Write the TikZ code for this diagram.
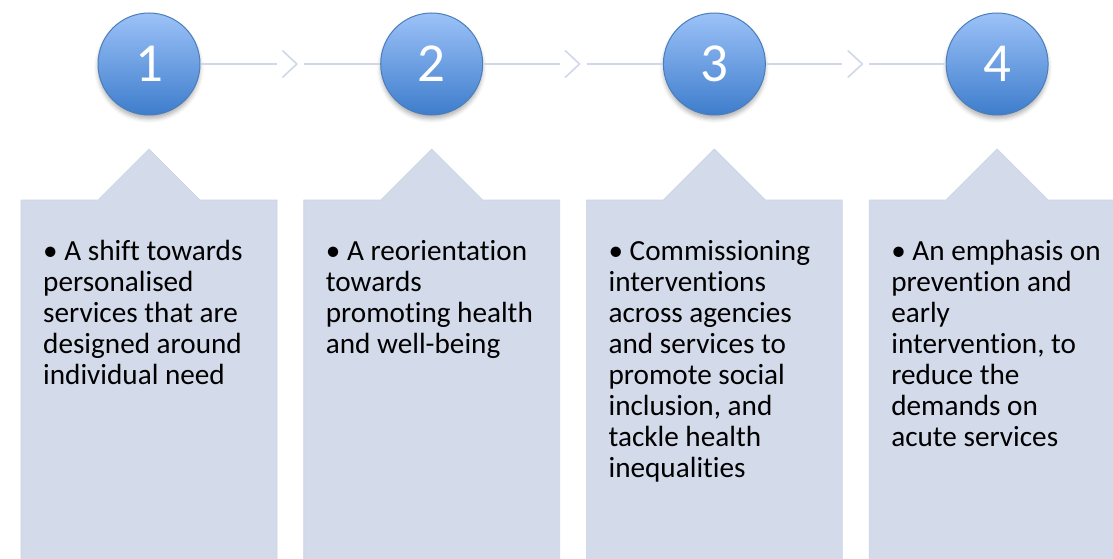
\documentclass[tikz,border=0pt]{standalone}
\usepackage{fontspec}
\setmainfont{Carlito}[Ligatures=NoCommon]
\usetikzlibrary{calc, shadows.blur}

\definecolor{stepTop}{HTML}{9CC2F8}
\definecolor{stepBot}{HTML}{3E7DCC}
\definecolor{stepEdge}{HTML}{4A7EBB}
\definecolor{panelFill}{HTML}{D3DAE9}
\definecolor{panelEdge}{HTML}{CBD3E5}
\definecolor{linkLine}{HTML}{D0D8E8}

\tikzset{
  stepdot/.style={circle, minimum size=102pt, inner sep=0pt, draw=stepEdge, line width=1pt,
    top color=stepTop, bottom color=stepBot, text=white,
    font=\fontsize{55}{55}\selectfont,
    blur shadow={shadow xshift=0pt, shadow yshift=-4pt, shadow blur radius=4pt, shadow opacity=30}},
  panel/.style={fill=panelFill, draw=panelEdge, line width=0.6pt},
  link/.style={draw=linkLine, line width=1.6pt},
  note/.style={anchor=north west, inner sep=0pt, align=left,
    font=\fontsize{29.2}{31}\selectfont}
}

\begin{document}
\begin{tikzpicture}[x=1pt, y=-1pt]

\useasboundingbox (0,0) rectangle (1113,559);
\clip (0,0) rectangle (1113,559);

% Panels with their pointer triangles
\foreach \i in {1,...,4} {
  \pgfmathsetmacro{\cx}{149+282.7*(\i-1)}
  \filldraw[panel] (\cx-128,200) -- (\cx-51,200) -- (\cx,149) -- (\cx+51,200)
    -- (\cx+128,200) -- (\cx+128,570) -- (\cx-128,570) -- cycle;
  \coordinate (p\i) at (\cx-106,238.3);
}

% Numbered steps
\foreach \i in {1,...,4} {
  \node[stepdot] (c\i) at ({149+282.7*(\i-1)},64) {\i};
}

% Connectors with chevrons
\foreach \i/\j in {1/2,2/3,3/4} {
  \coordinate (m\i) at ($(c\i)!0.5!(c\j)$);
  \draw[link] (c\i) -- ($(m\i)+(-13.5,0)$);
  \draw[link] ($(m\i)+(-8,-13.5)$) -- ($(m\i)+(6.5,0)$) -- ($(m\i)+(-8,13.5)$);
  \draw[link] ($(m\i)+(13.5,0)$) -- (c\j);
}

% Panel texts
\node[note] (t1) at (p1) {\strut• A shift towards\\personalised\\services that are\\designed around\\individual need};
\node[note] (t2) at (p2) {\strut• A reorientation\\towards\\promoting health\\and well-being};
\node[note] (t3) at (p3) {\strut• Commissioning\\interventions\\across agencies\\and services to\\promote social\\inclusion, and\\tackle health\\inequalities};
\node[note] (t4) at (p4) {\strut• An emphasis on\\prevention and\\early\\intervention, to\\reduce the\\demands on\\acute services};

\end{tikzpicture}
\end{document}
